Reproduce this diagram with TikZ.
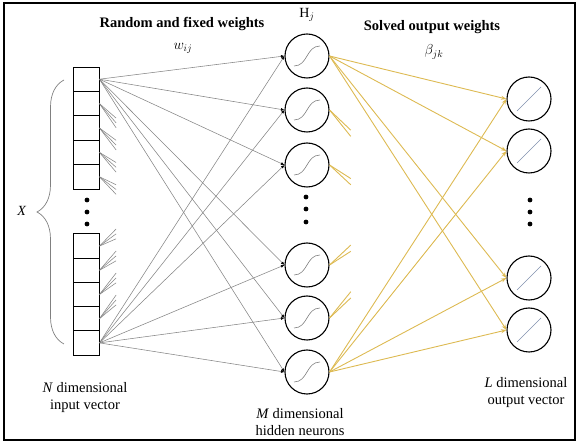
\documentclass[tikz,border=0pt]{standalone}
\usepackage{fontspec}
\setmainfont{Liberation Serif}
\usepackage{tikz}
\usetikzlibrary{arrows.meta,calc,decorations.pathreplacing}
\definecolor{solved}{HTML}{DDBA52}
\definecolor{wiregray}{HTML}{858585}
\definecolor{lineargray}{HTML}{8090AE}

\begin{document}
\begin{tikzpicture}[x={(1pt,0)}, y={(0,-1pt)}]
            \tikzstyle{cell} = [draw, line width = .9pt, minimum width = 26pt, minimum height = 24.4pt, inner sep = 0pt];
            \tikzstyle{neuron} = [draw, circle, line width = 1.1pt, minimum size = 44pt, inner sep = 0pt];
            \tikzstyle{wire} = [wiregray, line width = .55pt, -{Latex[length=3.5pt, width=3pt, color=black]}];
            \tikzstyle{stub} = [wiregray, line width = .55pt];
            \tikzstyle{solvedline} = [solved, line width = .9pt, -{Stealth[length=5.5pt, width=4pt]}];
            \tikzstyle{solvedstub} = [solved, line width = .9pt];
            \tikzstyle{head} = [font = \fontsize{14.5}{17}\selectfont\bfseries];
            \tikzstyle{sub} = [font = \fontsize{14}{17}\selectfont];
            \tikzstyle{caption} = [align = center, font = \fontsize{14.5}{17}\selectfont];
            \useasboundingbox (0,0) rectangle (579,443);
            \draw[line width = 1.8pt] (4,3) rectangle (575,440);
            % input vector, hidden layer, output layer
            \foreach \y [count=\i] in {79.2, 103.6, 128, 152.4, 176.8, 246.1, 270.3, 294.5, 318.7, 342.9}
            {\node[cell] (in\i) at (86,\y) {};}
            \foreach \y [count=\i] in {56, 110, 165, 265, 318, 372}
            {\node[neuron] (hid\i) at (307,\y) {};
            \draw[gray, line width = .6pt] ($(hid\i)+(-13,10)$) .. controls +(14,0) and +(-14,0) .. ($(hid\i)+(13,-10)$);}
            \foreach \y [count=\i] in {99, 151, 278, 330}
            {\node[neuron] (out\i) at (529,\y) {};
            \draw[lineargray, line width = .7pt] ($(out\i)+(-12,12)$) -- ($(out\i)+(12,-12)$);}
            \foreach \x/\y in {87/200, 87/212, 87/224, 306/197, 306/209, 306/222, 530/200, 530/212, 530/224}
            {\fill (\x,\y) circle (2.4pt);}
            % random weights
            \foreach \h in {1,...,6}
            {\draw[wire] (in1.east) -- (hid\h.west);
            \draw[wire] (in10.east) -- (hid\h.west);}
            \foreach \c in {2,...,5}
            {\foreach \h in {4,5,6} {\draw[stub] (in\c.east) -- ($(in\c.east)!.09!(hid\h.west)$);}}
            \foreach \c in {6,...,9}
            {\foreach \h in {1,2,3} {\draw[stub] (in\c.east) -- ($(in\c.east)!.09!(hid\h.west)$);}}
            % solved weights
            \foreach \o in {1,...,4}
            {\draw[solvedline] (hid1.east) -- (out\o.west);
            \draw[solvedline] (hid6.east) -- (out\o.west);}
            \foreach \h in {2,3}
            {\foreach \o in {3,4} {\draw[solvedstub] (hid\h.east) -- ($(hid\h.east)!.12!(out\o.west)$);}}
            \foreach \h in {4,5}
            {\foreach \o in {1,2} {\draw[solvedstub] (hid\h.east) -- ($(hid\h.east)!.12!(out\o.west)$);}}
            % brace and labels
            \coordinate (bbot) at (64,344);
            \coordinate (btop) at (64,80);
            \draw[gray, line width = .7pt, decorate, decoration = {brace, amplitude = 27pt}] (bbot) -- (btop);
            \node[sub] (xlab) at (22,211) {\textit{X}};
            \node[head] (randlab) at (182,24) {Random and fixed weights};
            \node[sub] (wlab) at (183,48) {$w_{ij}$};
            \node[sub] (hlab) at (307,15) {$\mathrm{H}_j$};
            \node[head] (solvlab) at (432,27) {Solved output weights};
            \node[sub] (blab) at (434,52) {$\beta_{jk}$};
            \node[caption] (inlab) at (85,398) {\textit{N} dimensional\\input vector};
            \node[caption] (hidlab) at (300,422) {\textit{M} dimensional\\hidden neurons};
            \node[caption] (outlab) at (526,393) {\textit{L} dimensional\\output vector};
        \end{tikzpicture}
\end{document}
